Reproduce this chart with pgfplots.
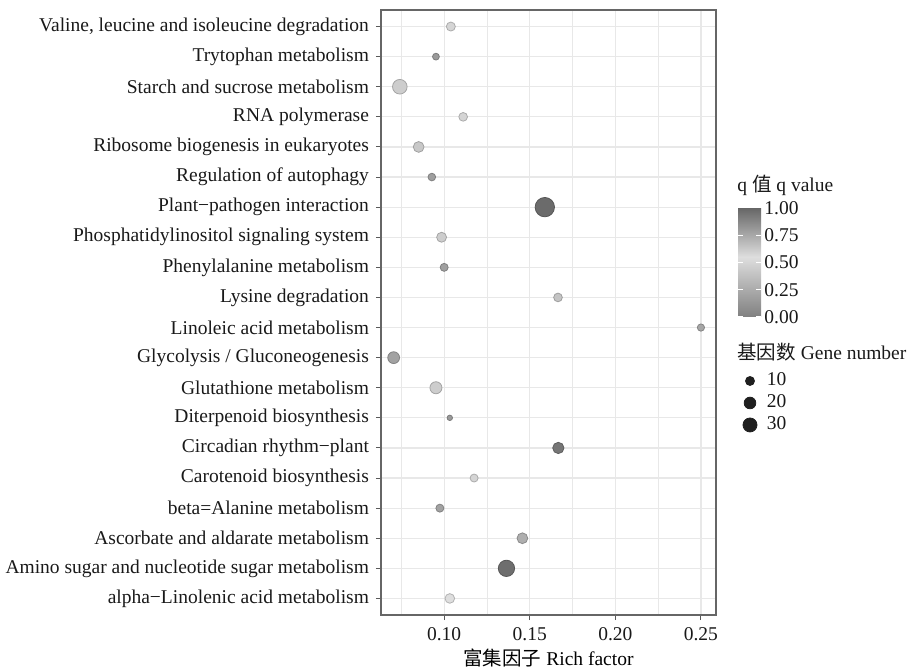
\documentclass[border=0pt]{standalone}
\usepackage{pgfplots}
\pgfplotsset{compat=1.18}
\usepackage{pgfplotstable}
\usepackage{fontspec}
\setmainfont{Liberation Serif}
\newfontfamily\cjk{Noto Sans CJK SC}
\usetikzlibrary{calc}
\newcommand\ff{\fontsize{9.75pt}{11.7pt}\selectfont}

% y = row (1 = bottom), x = rich factor, n = gene number, q = q value
\pgfplotstableread{
y x n q
1 0.1033 12 0.55
2 0.1364 42 0.97
3 0.1457 16 0.27
4 0.0975 7 0.20
5 0.1175 7 0.50
6 0.1667 18 0.94
7 0.1033 1 0.15
8 0.0952 21 0.45
9 0.0705 20 0.20
10 0.2500 5 0.22
11 0.1665 9 0.40
12 0.1000 7 0.18
13 0.0985 13 0.45
14 0.1588 61 0.98
15 0.0928 6 0.18
16 0.0851 16 0.42
17 0.1111 9 0.50
18 0.0741 33 0.45
19 0.0952 4 0.15
20 0.1039 10 0.50
}\enrich

\begin{document}
\begin{tikzpicture}[font=\ff]
\useasboundingbox (-190.5pt,-27pt) rectangle (264pt,307.5pt);
\begin{axis}[name=main, at={(0,0)}, anchor=south west,
    scale only axis, width=167.5pt, height=302.5pt,
    xmin=0.0631, xmax=0.2588, ymin=0.45, ymax=20.55,
    xtick={0.10,0.15,0.20,0.25}, minor xtick={0.075,0.125,0.175,0.225},
    ytick={1,...,20},
    yticklabels={alpha−Linolenic acid metabolism, Amino sugar and nucleotide sugar metabolism,
      Ascorbate and aldarate metabolism, beta=Alanine metabolism, Carotenoid biosynthesis,
      Circadian rhythm−plant, Diterpenoid biosynthesis, Glutathione metabolism,
      Glycolysis / Gluconeogenesis, Linoleic acid metabolism, Lysine degradation,
      Phenylalanine metabolism, Phosphatidylinositol signaling system, Plant−pathogen interaction,
      Regulation of autophagy, Ribosome biogenesis in eukaryotes, RNA polymerase,
      Starch and sucrose metabolism, Trytophan metabolism,
      {Valine, leucine and isoleucine degradation}},
    xticklabel style={/pgf/number format/.cd, fixed, fixed zerofill, precision=2, assume math mode=true},
    tick label style={font=\ff, text=black!90},
    grid=both, major grid style={black!9, line width=0.6pt}, minor grid style={black!9, line width=0.4pt},
    tick align=outside, tick pos=left, major tick length=2.5pt, minor tick length=0pt,
    tick style={black!65, line width=0.5pt},
    axis line style={black!60, line width=0.7pt},
    xlabel={{\cjk 富集因子} Rich factor},
    every axis x label/.style={at={(axis description cs:0.5,0)}, anchor=center, yshift=-21.5pt, font=\ff},
    colormap={qmap}{rgb255(0cm)=(128,128,128); rgb255(5.5cm)=(222,222,222); rgb255(10cm)=(102,102,102)},
    point meta min=0, point meta max=1,
    colorbar,
    colorbar style={at={(parent axis.south west)}, anchor=south west, xshift=170pt, yshift=149pt,
      width=11.5pt, height=54.6pt,
      ytick={0,0.25,0.5,0.75,1},
      yticklabel style={font=\ff, text=black!90, inner sep=0pt, xshift=1.5pt,
        /pgf/number format/.cd, fixed, fixed zerofill, precision=2, assume math mode=true},
      tick align=inside, ytick pos=both, major tick length=2.3pt,
      ytick style={white, line width=0.5pt},
      axis line style={draw=none}},
    legend cell align=left,
    legend image code/.code={\path[draw=none, fill=none] (0pt,-5.5pt) rectangle (11.9pt,5.5pt);
      \draw[#1] plot coordinates {(3.5pt,0pt)};},
    legend style={at={(axis description cs:1.0806,0.405)}, anchor=north west,
      draw=none, fill=none, inner sep=0pt, outer sep=0pt, row sep=0pt, column sep=0pt,
      font=\ff, nodes={inner sep=0pt, minimum height=11pt, text=black!90}},
    clip=false]
  \addplot[scatter, only marks, mark=*, point meta=\thisrow{q},
    visualization depends on={0.5*sqrt(5.9+1.44*\thisrow{n}) \as \rad},
    scatter/@pre marker code/.append style={/tikz/mark size=\rad pt}, forget plot]
    table[x=x, y=y] {\enrich};
  \addlegendimage{only marks, mark=*, black!88, mark size=2.25pt}
  \addlegendentry{10}
  \addlegendimage{only marks, mark=*, black!88, mark size=2.92pt}
  \addlegendentry{20}
  \addlegendimage{only marks, mark=*, black!88, mark size=3.5pt}
  \addlegendentry{30}
\end{axis}
\node[anchor=west, inner sep=0pt, text=black!90] at ($(main.south west)+(178pt,215pt)$) {q {\cjk 值} q value};
\node[anchor=west, inner sep=0pt, text=black!90] at ($(main.south west)+(178pt,131.2pt)$) {{\cjk 基因数} Gene number};
\end{tikzpicture}
\end{document}
